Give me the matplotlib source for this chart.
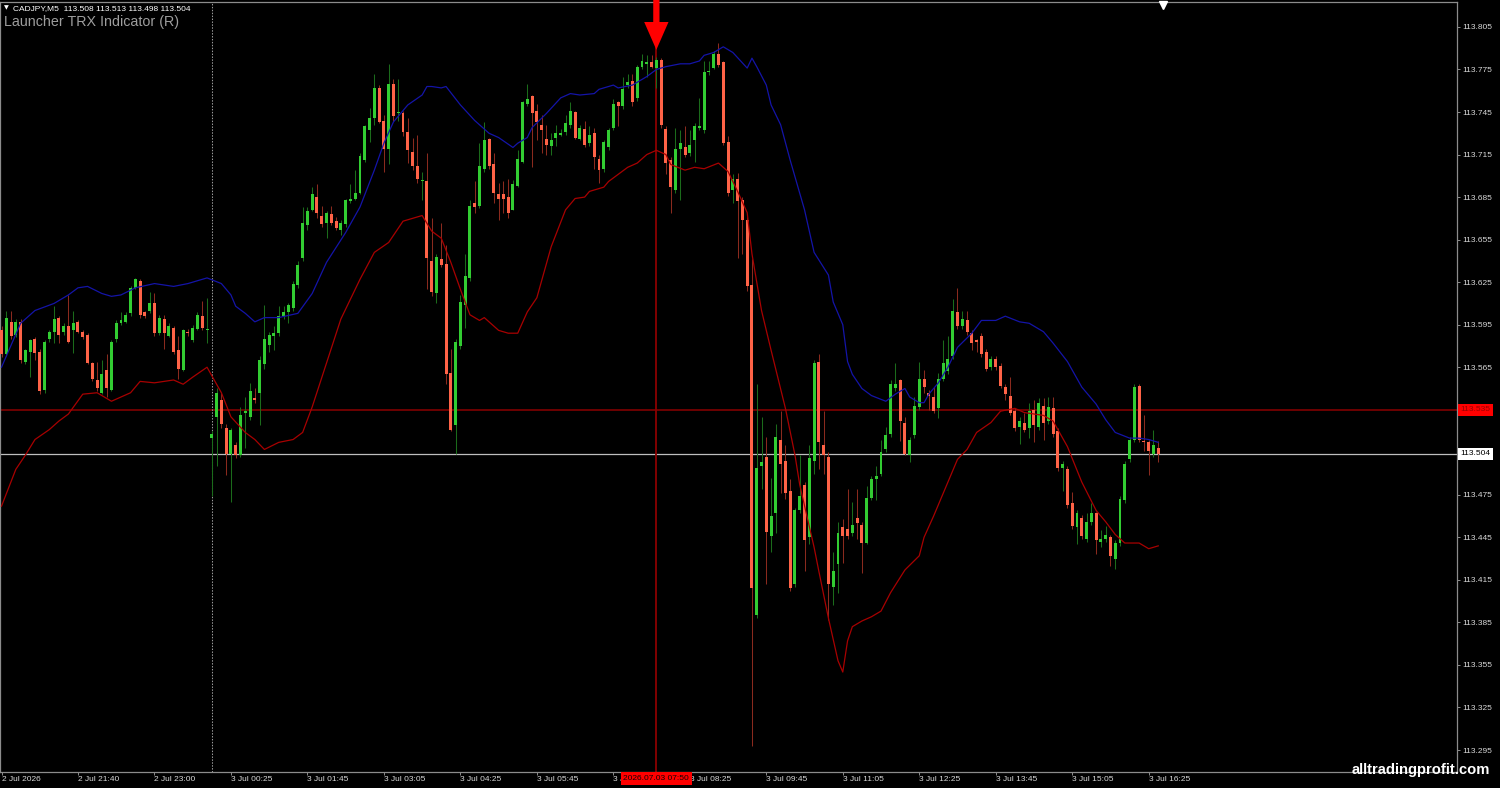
import matplotlib
matplotlib.use('Agg')
import matplotlib.pyplot as plt
from matplotlib import font_manager
from matplotlib.transforms import blended_transform_factory

# ---------------- data (CADJPY M5) ----------------
opens = [113.591,113.574,113.597,113.588,113.597,113.569,113.576,113.585,113.576,113.549,
113.585,113.590,113.600,113.590,113.594,113.591,113.597,113.590,113.588,113.568,
113.556,113.547,113.563,113.549,113.585,113.596,113.597,113.603,113.621,113.626,
113.604,113.605,113.610,113.589,113.599,113.587,113.593,113.577,113.563,113.590,
113.584,113.592,113.601,113.591,113.515,113.530,113.542,113.522,113.504,113.510,
113.503,113.533,113.530,113.543,113.547,113.567,113.581,113.587,113.589,113.601,
113.604,113.607,113.623,113.642,113.665,113.676,113.685,113.672,113.667,113.673,
113.668,113.662,113.666,113.682,113.684,113.688,113.711,113.732,113.741,113.762,
113.739,113.719,113.765,113.744,113.744,113.731,113.717,113.707,113.696,113.696,
113.640,113.617,113.641,113.638,113.561,113.524,113.580,113.609,113.628,113.681,
113.679,113.705,113.726,113.708,113.687,113.687,113.685,113.676,113.693,113.710,
113.751,113.756,113.746,113.736,113.726,113.721,113.727,113.729,113.731,113.736,
113.745,113.726,113.733,113.723,113.730,113.712,113.705,113.720,113.734,113.752,
113.749,113.764,113.767,113.755,113.777,113.779,113.780,113.776,113.782,113.733,
113.711,113.690,113.719,113.720,113.716,113.725,113.734,113.732,113.773,113.776,
113.786,113.780,113.724,113.690,113.698,113.683,113.669,113.623,113.390,113.495,
113.502,113.446,113.462,113.514,113.499,113.478,113.412,113.464,113.482,113.445,
113.499,113.569,113.510,113.502,113.410,113.426,113.452,113.451,113.448,113.459,
113.454,113.441,113.473,113.486,113.490,113.507,113.518,113.550,113.556,113.526,
113.503,113.517,113.537,113.557,113.547,113.544,113.536,113.557,113.562,113.573,
113.604,113.594,113.598,113.589,113.584,113.587,113.576,113.565,113.571,113.566,
113.551,113.545,113.534,113.523,113.526,113.522,113.535,113.523,113.538,113.527,
113.536,113.520,113.494,113.493,113.469,113.452,113.459,113.444,113.456,113.462,
113.442,113.444,113.445,113.430,113.441,113.471,113.500,113.514,113.552,113.513,
113.512,113.504,113.508]
highs = [113.594,113.605,113.605,113.599,113.599,113.578,113.585,113.586,113.578,113.584,
113.591,113.608,113.601,113.596,113.616,113.605,113.598,113.591,113.589,113.569,
113.569,113.570,113.574,113.584,113.598,113.604,113.604,113.622,113.628,113.627,
113.605,113.618,113.617,113.602,113.602,113.596,113.594,113.587,113.592,113.592,
113.595,113.604,113.612,113.614,113.520,113.550,113.547,113.525,113.522,113.512,
113.537,113.544,113.554,113.550,113.573,113.609,113.590,113.594,113.608,113.608,
113.610,113.626,113.640,113.678,113.678,113.692,113.694,113.679,113.675,113.679,
113.671,113.669,113.684,113.694,113.704,113.716,113.736,113.748,113.772,113.764,
113.743,113.779,113.768,113.768,113.746,113.741,113.727,113.729,113.703,113.716,
113.670,113.645,113.667,113.651,113.578,113.585,113.616,113.645,113.683,113.696,
113.723,113.738,113.727,113.716,113.695,113.696,113.698,113.697,113.718,113.753,
113.765,113.757,113.751,113.743,113.736,113.730,113.736,113.733,113.743,113.752,
113.746,113.736,113.739,113.735,113.734,113.715,113.725,113.734,113.754,113.753,
113.770,113.772,113.772,113.778,113.786,113.785,113.785,113.784,113.783,113.735,
113.713,113.734,113.732,113.735,113.732,113.737,113.755,113.781,113.781,113.788,
113.794,113.781,113.728,113.701,113.702,113.685,113.671,113.641,113.553,113.530,
113.516,113.487,113.525,113.534,113.510,113.486,113.466,113.503,113.484,113.510,
113.570,113.574,113.534,113.505,113.435,113.456,113.458,113.479,113.470,113.479,
113.456,113.481,113.488,113.495,113.514,113.523,113.556,113.568,113.557,113.530,
113.516,113.544,113.569,113.563,113.549,113.551,113.561,113.584,113.587,113.613,
113.621,113.605,113.605,113.591,113.585,113.589,113.578,113.573,113.573,113.568,
113.553,113.558,113.536,113.530,113.533,113.540,113.542,113.543,113.543,113.544,
113.544,113.522,113.499,113.495,113.477,113.464,113.461,113.462,113.469,113.463,
113.450,113.453,113.447,113.443,113.474,113.499,113.516,113.553,113.553,113.531,
113.514,113.521,113.513]
lows = [113.572,113.573,113.585,113.586,113.568,113.567,113.558,113.570,113.546,113.547,
113.583,113.582,113.582,113.588,113.582,113.575,113.589,113.585,113.567,113.555,
113.548,113.546,113.544,113.548,113.583,113.595,113.596,113.601,113.620,113.600,
113.600,113.603,113.587,113.588,113.578,113.586,113.574,113.557,113.562,113.587,
113.583,113.591,113.591,113.582,113.474,113.495,113.522,113.489,113.470,113.501,
113.502,113.508,113.528,113.540,113.524,113.564,113.576,113.577,113.587,113.599,
113.596,113.605,113.621,113.640,113.662,113.675,113.670,113.664,113.656,113.665,
113.662,113.658,113.664,113.681,113.683,113.687,113.710,113.724,113.736,113.737,
113.703,113.708,113.739,113.739,113.728,113.709,113.704,113.695,113.683,113.620,
113.615,113.610,113.636,113.553,113.520,113.504,113.578,113.593,113.626,113.674,
113.677,113.703,113.705,113.681,113.669,113.674,113.670,113.676,113.692,113.709,
113.749,113.706,113.725,113.716,113.715,113.715,113.721,113.728,113.729,113.734,
113.726,113.725,113.720,113.721,113.705,113.695,113.703,113.718,113.732,113.735,
113.747,113.762,113.749,113.753,113.775,113.770,113.776,113.762,113.734,113.701,
113.674,113.688,113.683,113.713,113.714,113.710,113.732,113.730,113.771,113.775,
113.777,113.722,113.686,113.681,113.642,113.645,113.619,113.298,113.388,113.479,
113.412,113.435,113.448,113.476,113.472,113.407,113.410,113.462,113.421,113.440,
113.490,113.493,113.490,113.387,113.397,113.406,113.427,113.444,113.446,113.444,
113.420,113.440,113.471,113.471,113.488,113.505,113.516,113.548,113.513,113.503,
113.498,113.515,113.535,113.547,113.535,113.533,113.529,113.555,113.560,113.571,
113.592,113.592,113.588,113.577,113.576,113.572,113.562,113.563,113.563,113.550,
113.542,113.531,113.520,113.511,113.519,113.515,113.512,113.521,113.514,113.525,
113.516,113.492,113.478,113.466,113.451,113.440,113.444,113.442,113.454,113.433,
113.438,113.442,113.425,113.423,113.439,113.469,113.498,113.512,113.512,113.506,
113.489,113.502,113.498]
closes = [113.574,113.600,113.587,113.597,113.570,113.577,113.584,113.575,113.548,113.583,
113.590,113.599,113.588,113.594,113.583,113.596,113.590,113.586,113.568,113.557,
113.550,113.560,113.550,113.583,113.596,113.598,113.602,113.621,113.627,113.602,
113.601,113.610,113.589,113.600,113.589,113.594,113.576,113.564,113.591,113.589,
113.593,113.602,113.593,113.592,113.518,113.547,113.525,113.504,113.521,113.503,
113.531,113.534,113.548,113.542,113.570,113.585,113.588,113.589,113.601,113.604,
113.609,113.624,113.637,113.667,113.675,113.687,113.674,113.666,113.674,113.667,
113.663,113.667,113.683,113.684,113.688,113.714,113.735,113.741,113.762,113.738,
113.719,113.765,113.742,113.745,113.731,113.718,113.707,113.698,113.697,113.642,
113.618,113.643,113.637,113.560,113.521,113.583,113.611,113.629,113.679,113.678,
113.707,113.725,113.707,113.688,113.684,113.684,113.674,113.694,113.712,113.752,
113.754,113.744,113.738,113.732,113.722,113.725,113.730,113.730,113.737,113.746,
113.727,113.734,113.722,113.729,113.713,113.704,113.724,113.732,113.751,113.749,
113.761,113.766,113.752,113.777,113.781,113.780,113.777,113.782,113.736,113.709,
113.692,113.719,113.723,113.715,113.722,113.735,113.735,113.773,113.774,113.786,
113.778,113.723,113.688,113.698,113.682,113.669,113.622,113.409,113.494,113.498,
113.449,113.460,113.516,113.497,113.476,113.409,113.464,113.474,113.443,113.501,
113.568,113.512,113.503,113.412,113.421,113.448,113.446,113.446,113.454,113.455,
113.441,113.473,113.486,113.488,113.505,113.517,113.553,113.553,113.527,113.504,
113.514,113.538,113.557,113.551,113.545,113.534,113.557,113.568,113.571,113.605,
113.594,113.599,113.590,113.582,113.583,113.574,113.564,113.571,113.565,113.552,
113.546,113.533,113.522,113.527,113.521,113.534,113.524,113.540,113.526,113.537,
113.518,113.494,113.497,113.468,113.453,113.462,113.446,113.456,113.462,113.443,
113.444,113.447,113.432,113.441,113.472,113.497,113.514,113.551,113.514,113.512,
113.506,113.510,113.504]

# indicator bands, read at the listed bar numbers
upper_idx = [0,4,7,11,14,16,18,21,23,25,28,32,36,39,43,46,48,49,51,53,55,58,62,65,68,72,75,78,80,82,
             85,88,89,90,92,93,96,99,102,104,107,108,110,111,114,117,119,121,124,125,128,129,132,135,137,139,
             142,144,146,147,149,151,153,156,157,158,160,161,163,165,168,170,173,174,176,177,178,180,182,185,
             187,189,190,192,193,194,196,198,200,203,205,208,210,213,215,218,220,223,226,229,231,233,236,238,240,242]
upper_val = [113.565,113.596,113.605,113.610,113.616,113.621,113.622,113.617,113.615,113.616,
             113.621,113.624,113.622,113.624,113.628,113.624,113.616,113.608,113.603,113.597,
             113.600,113.600,113.603,113.617,113.639,113.660,113.678,113.704,113.723,113.738,
             113.750,113.757,113.763,113.763,113.762,113.763,113.750,113.739,113.730,113.727,
             113.720,113.723,113.727,113.734,113.744,113.755,113.758,113.757,113.758,113.761,
             113.764,113.762,113.764,113.770,113.775,113.777,113.779,113.779,113.781,113.785,
             113.787,113.791,113.787,113.776,113.783,113.777,113.764,113.750,113.736,113.711,
             113.676,113.646,113.630,113.611,113.595,113.569,113.560,113.550,113.545,113.541,
             113.546,113.550,113.544,113.540,113.540,113.546,113.554,113.565,113.579,113.589,
             113.598,113.598,113.601,113.597,113.596,113.590,113.582,113.569,113.551,113.539,
             113.528,113.519,113.515,113.515,113.514,113.512]
lower_idx = [0,3,5,7,10,12,14,17,20,23,27,29,32,36,38,40,43,46,48,51,53,55,58,61,63,65,68,71,75,78,
             81,84,88,90,92,94,96,98,100,101,104,106,108,110,112,115,118,120,122,123,126,127,129,131,133,135,
             137,139,140,143,145,147,150,152,154,156,157,159,161,164,166,167,170,171,173,175,176,177,178,180,
             182,184,186,189,192,193,195,198,200,202,204,207,209,212,214,218,220,223,226,229,231,233,235,238,
             240,241,242]
lower_val = [113.467,113.493,113.503,113.514,113.521,113.527,113.532,113.546,113.547,113.541,
             113.547,113.555,113.554,113.556,113.553,113.558,113.565,113.547,113.530,113.519,
             113.514,113.507,113.512,113.514,113.519,113.537,113.568,113.599,113.627,113.646,
             113.653,113.668,113.672,113.661,113.656,113.639,113.620,113.602,113.598,113.600,
             113.591,113.589,113.589,113.604,113.614,113.650,113.676,113.684,113.685,113.689,
             113.692,113.696,113.701,113.706,113.709,113.715,113.718,113.715,113.708,113.704,
             113.706,113.705,113.709,113.703,113.689,113.674,113.645,113.605,113.577,113.536,
             113.503,113.482,113.438,113.421,113.388,113.358,113.350,113.372,113.382,113.386,
             113.389,113.393,113.406,113.422,113.432,113.445,113.460,113.484,113.500,113.507,
             113.519,113.526,113.534,113.536,113.533,113.531,113.527,113.509,113.484,113.464,
             113.456,113.447,113.441,113.441,113.437,113.438,113.439]

time_ticks = [0,16,32,48,64,80,96,112,128,144,160,176,192,208,224,240]
time_labels = ["2 Jul 2026","2 Jul 21:40","2 Jul 23:00","3 Jul 00:25","3 Jul 01:45","3 Jul 03:05",
               "3 Jul 04:25","3 Jul 05:45","3 Jul 07:05","3 Jul 08:25","3 Jul 09:45","3 Jul 11:05",
               "3 Jul 12:25","3 Jul 13:45","3 Jul 15:05","3 Jul 16:25"]
price_ticks = [113.805,113.775,113.745,113.715,113.685,113.655,113.625,113.595,113.565,
               113.475,113.445,113.415,113.385,113.355,113.325,113.295]
day_separator_bar = 44
signal_bar = 137
signal_time = "2026.07.03 07:50"
hline_price = 113.535
bid_price = 113.504
symbol = "CADJPY,M5"
title = "Launcher TRX Indicator (R)"
watermark = "alltradingprofit.com"

# ---------------- style ----------------
names = {f.name for f in font_manager.fontManager.ttflist}
SANS = 'Liberation Sans' if 'Liberation Sans' in names else 'DejaVu Sans'
plt.rcParams['font.family'] = [SANS, 'DejaVu Sans']
BULL, BEAR = '#32CD32', '#FF6347'
BULL_W, BEAR_W = '#1B6B1B', '#8A2A1E'
GRID = '#8C8C8C'
TXT = '#D8D8D8'

W, H = 1500, 788
fig = plt.figure(figsize=(W/100, H/100), dpi=100, facecolor='black')
ax = fig.add_axes([0/W, 16/H, 1457/W, 770/H], facecolor='black')
ax.set_xlim(-0.314, 304.5)
ax.set_ylim(113.2795, 113.8226)
for s in ax.spines.values():
    s.set_color(GRID)
    s.set_linewidth(0.9)

n = len(closes)
up = [i for i in range(n) if closes[i] >= opens[i]]
dn = [i for i in range(n) if closes[i] < opens[i]]
for grp, bc, wc in ((up, BULL, BULL_W), (dn, BEAR, BEAR_W)):
    ax.vlines(grp, [lows[i] for i in grp], [highs[i] for i in grp], colors=wc, lw=0.75, zorder=3)
    ax.bar(grp, [max(abs(closes[i]-opens[i]), 0.0008) for i in grp],
           bottom=[min(opens[i], closes[i]) for i in grp], width=0.62,
           color=bc, linewidth=0, zorder=4)

ax.plot(upper_idx, upper_val, color='#1414A8', lw=0.9, zorder=5)
ax.plot(lower_idx, lower_val, color='#A80000', lw=0.9, zorder=5)

ax.axhline(hline_price, color='#8B0000', lw=1.1, zorder=2)
ax.axhline(bid_price, color='#BEBEBE', lw=0.9, zorder=2)
ax.axvline(day_separator_bar, color='#9A9A9A', lw=0.75, linestyle=(0, (1.4, 1.4)), zorder=2)
ax.axvline(signal_bar, color='#8B0000', lw=1.3, zorder=2)

# signal arrow
ax.annotate('', xy=(signal_bar, highs[signal_bar]), xycoords='data',
            xytext=(signal_bar, 1.004), textcoords=('data', 'axes fraction'),
            arrowprops=dict(arrowstyle='simple,head_length=2.0,head_width=1.75,tail_width=0.45',
                            fc='#FF0000', ec='none', mutation_scale=10, shrinkA=0, shrinkB=5),
            annotation_clip=False, zorder=8)

# axes ticks
ax.yaxis.tick_right()
ax.set_yticks(price_ticks)
ax.set_yticklabels([f"{p:.3f}" for p in price_ticks])
ax.tick_params(axis='y', which='both', right=True, left=False, length=2.2, width=0.7,
               color=GRID, labelcolor=TXT, labelsize=6, pad=1.5)
ax.set_xticks(time_ticks)
ax.set_xticklabels(time_labels, ha='left')
ax.tick_params(axis='x', length=2.2, width=0.7, color=GRID, labelcolor=TXT, labelsize=6, pad=1)

tr_y = blended_transform_factory(ax.transAxes, ax.transData)
tr_x = blended_transform_factory(ax.transData, ax.transAxes)
ax.text(1.0022, hline_price, f"{hline_price:.3f}", transform=tr_y, ha='left', va='center',
        fontsize=6, color='#9A0000', clip_on=False, zorder=10,
        bbox=dict(boxstyle='square,pad=0.3', fc='#FF0000', ec='none'))
ax.text(1.0022, bid_price, f"{bid_price:.3f}", transform=tr_y, ha='left', va='center',
        fontsize=6, color='#000000', clip_on=False, zorder=10,
        bbox=dict(boxstyle='square,pad=0.3', fc='#FFFFFF', ec='none'))
ax.text(signal_bar, -0.0035, signal_time, transform=tr_x, ha='center', va='top',
        fontsize=6, color='#1A0000', clip_on=False, zorder=10,
        bbox=dict(boxstyle='square,pad=0.35', fc='#FF0000', ec='none'))

# chart shift marker
ax.plot([n], [0.9965], transform=tr_x, marker='v', ms=5.5, color='white', clip_on=False, zorder=10)

# header texts
fig.text(4/W, 1 - 8/H, '\u25BC', fontsize=4.5, color='white', ha='left', va='center',
         family=['DejaVu Sans'])
fig.text(13/W, 1 - 9/H, f"{symbol}  {opens[-1]:.3f} {highs[-1]:.3f} {lows[-1]:.3f} {closes[-1]:.3f}",
         fontsize=6, color='white', ha='left', va='center')
fig.text(4/W, 1 - 22/H, title, fontsize=10.3, color='#9E9E9E', ha='left', va='center')

if 'Liberation Sans Narrow' in names:
    fig.text(1490/W, 1 - 770/H, watermark, fontsize=12.5, fontweight='bold', color='white',
             ha='right', va='center', family='Liberation Sans Narrow')
else:
    fig.text(1490/W, 1 - 770/H, watermark, fontsize=10.6, fontweight='bold', color='white',
             ha='right', va='center')

fig.savefig('out.png', dpi=100, facecolor='black')
